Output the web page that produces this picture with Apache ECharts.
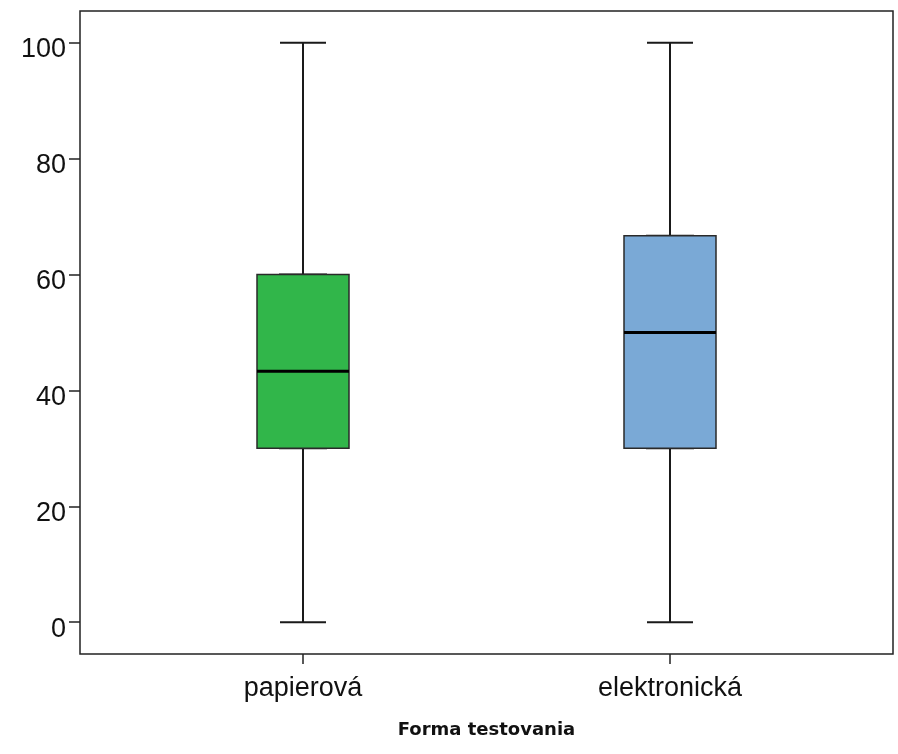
<!DOCTYPE html>
<html>
<head>
<meta charset="utf-8">
<script src="https://cdn.jsdelivr.net/npm/echarts@6/dist/echarts.min.js"></script>
<style>
html,body{margin:0;padding:0;background:#fff;}
#chart{width:898px;height:754px;}
</style>
</head>
<body>
<div id="chart"></div>
<script>
// ---- data ----
const categories = ['papierová', 'elektronická'];
const minValues = [0, 0];
const q1Values = [30, 30];
const medianValues = [43.3, 50];
const q3Values = [60, 66.7];
const maxValues = [100, 100];
const yTickValues = [0, 20, 40, 60, 80, 100];
const axisTitle = 'Forma testovania';

// ---- styles ----
const boxColors = ['#31b64a', '#7aa9d6'];
const font = 'Liberation Sans, Arial, sans-serif';

const whiskerData = categories.map((c, i) => [minValues[i], q1Values[i], medianValues[i], q3Values[i], maxValues[i]]);
const boxData = categories.map((c, i) => ({
  value: [q1Values[i], q1Values[i], medianValues[i], q3Values[i], q3Values[i]],
  itemStyle: { color: boxColors[i] }
}));
const medianData = categories.map((c, i) => [medianValues[i], medianValues[i], medianValues[i], medianValues[i], medianValues[i]]);

const yMin = -5.5, yMax = 105.5;

const chart = echarts.init(document.getElementById('chart'), null, { renderer: 'canvas' });
const hiddenX = (gridIndex) => ({
  type: 'category', gridIndex, data: categories,
  axisLine: { show: false, onZero: false }, axisTick: { show: false }, axisLabel: { show: false }, splitLine: { show: false }
});
chart.setOption({
  animation: false,
  backgroundColor: '#ffffff',
  grid: [
    { left: 80, right: 5, top: 11, bottom: 100, show: true, borderColor: '#222', borderWidth: 1.5, backgroundColor: 'transparent', containLabel: false },
    { left: 119.5, right: 44.5, top: 11, bottom: 100, containLabel: false }
  ],
  xAxis: [
    hiddenX(0),
    {
      type: 'category', gridIndex: 1, data: categories, position: 'bottom',
      axisLine: { show: false, onZero: false },
      axisTick: { show: true, alignWithLabel: true, length: 10, lineStyle: { color: '#222', width: 1.5 } },
      axisLabel: { show: true, margin: 21, fontFamily: font, fontSize: 27, color: '#111' },
      splitLine: { show: false },
      name: axisTitle, nameLocation: 'middle', nameGap: 67,
      nameTextStyle: { fontFamily: 'DejaVu Sans', fontWeight: 'bold', fontSize: 18, color: '#111' }
    },
    hiddenX(1),
    hiddenX(1)
  ],
  yAxis: [
    {
      type: 'value', gridIndex: 0, min: yMin, max: yMax,
      axisLine: { show: false },
      axisTick: { show: true, customValues: yTickValues, length: 11, lineStyle: { color: '#222', width: 1.5 } },
      axisLabel: {
        show: true, customValues: yTickValues, margin: 14, color: '#111',
        formatter: '{v|{value}}',
        rich: { v: { fontFamily: font, fontSize: 27, color: '#111', padding: [14, 0, 0, 0] } }
      },
      splitLine: { show: false }
    },
    {
      type: 'value', gridIndex: 1, min: yMin, max: yMax, show: false,
      splitLine: { show: false }
    }
  ],
  series: [
    {
      name: 'whiskers', type: 'boxplot', xAxisIndex: 1, yAxisIndex: 1,
      boxWidth: [46, 46], z: 2, silent: true,
      itemStyle: { color: '#ffffff', borderColor: '#1a1a1a', borderWidth: 2 },
      emphasis: { disabled: true },
      data: whiskerData
    },
    {
      name: 'boxes', type: 'boxplot', xAxisIndex: 2, yAxisIndex: 1,
      boxWidth: [92, 92], z: 3, silent: true,
      itemStyle: { borderColor: '#2a2a2a', borderWidth: 1.5 },
      emphasis: { disabled: true },
      data: boxData
    },
    {
      name: 'medians', type: 'boxplot', xAxisIndex: 3, yAxisIndex: 1,
      boxWidth: [92, 92], z: 4, silent: true,
      itemStyle: { color: '#000', borderColor: '#000', borderWidth: 3 },
      emphasis: { disabled: true },
      data: medianData
    }
  ]
});
</script>
</body>
</html>
